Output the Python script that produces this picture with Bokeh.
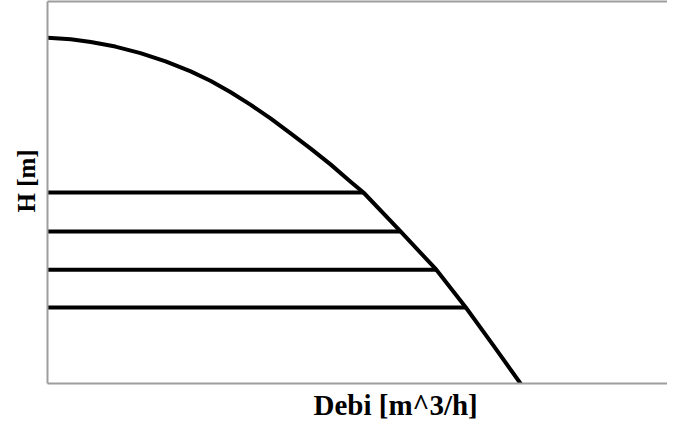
from bokeh.plotting import figure
from bokeh.models import Range1d, LinearAxis, Title, ColumnDataSource
from bokeh.embed import file_html
from bokeh.resources import INLINE

# Pump curve (flow Q vs head H), arbitrary units
pump_q = [0, 3.7, 6.9, 10.8, 14.8, 18.8, 22.8, 26.0, 29.1, 32.3, 35.5, 38.7, 41.9, 45.1, 48.2,
          50.3, 56.2, 61.9, 66.6, 71.0, 75.3]
pump_h = [90.5, 90.1, 89.4, 88.2, 86.5, 84.3, 81.7, 79.2, 76.3, 73.0, 69.4, 65.5, 61.5, 57.3, 52.9,
          50.0, 39.8, 29.8, 19.9, 9.9, 0.0]

# Operating-level lines: head level and flow where they meet the pump curve
level_h = [50.0, 39.8, 29.8, 19.9]
level_q_end = [50.3, 56.2, 61.9, 66.6]

x_label = "Debi [m^3/h]"
y_label = "H [m]"

p = figure(width=667, height=428, output_backend="svg", toolbar_location=None,
           x_range=Range1d(0, 98.7), y_range=Range1d(0, 100),
           x_axis_type=None, y_axis_type=None,
           min_border_left=47, min_border_right=0, min_border_top=1, min_border_bottom=45)
p.background_fill_color = "white"
p.border_fill_color = "white"
p.outline_line_color = None
p.xgrid.visible = False
p.ygrid.visible = False

def frame_axis(axis):
    axis.axis_line_color = "#9e9e9e"
    axis.axis_line_width = 2
    axis.major_tick_line_color = None
    axis.minor_tick_line_color = None
    axis.major_tick_out = 0
    axis.major_tick_in = 0
    axis.minor_tick_out = 0
    axis.minor_tick_in = 0
    axis.major_label_text_font_size = "0px"
    axis.major_label_text_color = None
    axis.major_label_standoff = 0
    return axis

p.add_layout(frame_axis(LinearAxis()), "left")
p.add_layout(frame_axis(LinearAxis()), "below")
p.add_layout(frame_axis(LinearAxis()), "above")

p.add_layout(Title(text=x_label, align="left", offset=266, standoff=6,
                   text_font="Liberation Serif", text_font_style="bold",
                   text_font_size="29px", text_color="black"), "below")
p.add_layout(Title(text=y_label, align="left", offset=171, standoff=15,
                   text_font="Liberation Serif", text_font_style="bold",
                   text_font_size="25px", text_color="black"), "left")

p.line(pump_q, pump_h, line_color="black", line_width=4, line_join="round", line_cap="round")

src = ColumnDataSource(dict(x0=[0] * len(level_h), x1=level_q_end, y=level_h))
p.segment(x0="x0", y0="y", x1="x1", y1="y", source=src, line_color="black", line_width=4)

open("out.html", "w").write(file_html(p, INLINE))
